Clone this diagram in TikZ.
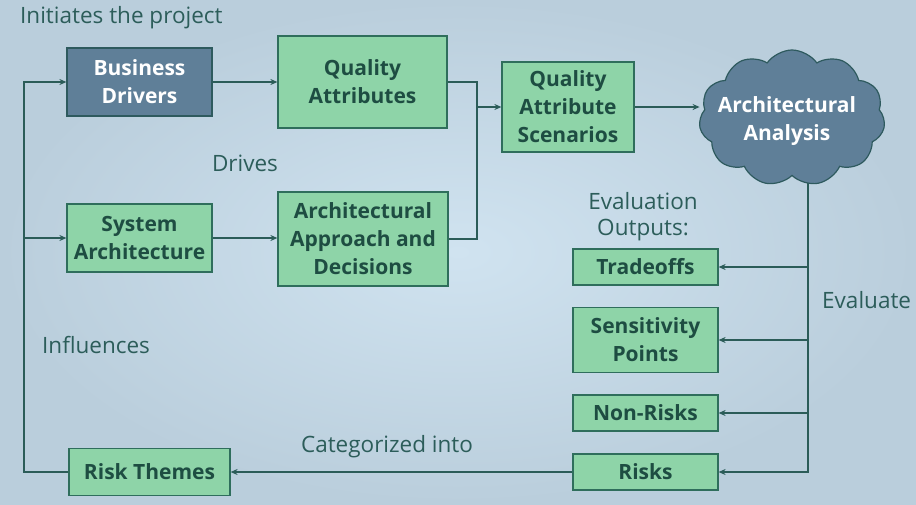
\documentclass[tikz,border=0pt]{standalone}
\usepackage{fontspec}
\setmainfont{Open Sans}
\usetikzlibrary{shapes.symbols,arrows.meta}
\definecolor{bgin}{HTML}{D0E3F0}
\definecolor{bgout}{HTML}{BACEDC}
\definecolor{gfill}{HTML}{8ED4A8}
\definecolor{gline}{HTML}{2F6E5C}
\definecolor{gtext}{HTML}{1E4D42}
\definecolor{dfill}{HTML}{5F7F98}
\definecolor{dline}{HTML}{2E5A5E}
\definecolor{lbl}{HTML}{2C5D5A}
\definecolor{conn}{HTML}{2B5C58}
\pgfdeclarelayer{bg}
\pgfdeclarelayer{lines}
\pgfsetlayers{bg,lines,main}
\tikzset{
  boxfont/.style={font=\bfseries\fontsize{21}{28}\selectfont},
  gbox/.style={draw=gline, line width=1.2pt, fill=gfill, text=gtext, boxfont, align=center, inner sep=0pt},
  dbox/.style={draw=dline, line width=1.2pt, fill=dfill, text=white, boxfont, align=center, inner sep=0pt},
  lab/.style={text=lbl, font=\fontsize{22.5}{26}\selectfont, align=center, inner sep=0pt},
  conline/.style={draw=conn, line width=1.2pt},
  arr/.style={conline, -{Stealth[length=7pt,width=6pt]}},
}
\begin{document}
\begin{tikzpicture}[x=1pt,y=-1pt]
\begin{pgfonlayer}{bg}
\shade[inner color=bgin, outer color=bgout] (0,0) rectangle (916,504);
\end{pgfonlayer}
\useasboundingbox (0,0) rectangle (916,504);

% boxes
\node[dbox, minimum width=145pt, minimum height=68pt] (bd) at (139.5,82) {Business\\Drivers};
\node[gbox, minimum width=169pt, minimum height=92pt] (qa) at (362.5,82) {Quality\\Attributes};
\node[gbox, minimum width=132pt, minimum height=90pt] (qas) at (568,107) {Quality\\Attribute\\Scenarios};
\node[cloud, cloud puffs=11, cloud puff arc=110, draw=dline, line width=1.2pt, fill=dfill, minimum width=186pt, minimum height=136pt, inner sep=0pt] (aa) at (792,118) {};
\node[boxfont, text=white, align=center, inner sep=0pt] (aat) at (787,121) {Architectural\\Analysis};
\node[gbox, minimum width=145pt, minimum height=68pt] (sa) at (139.5,238) {System\\Architecture};
\node[gbox, minimum width=170pt, minimum height=94pt] (aad) at (363,239) {Architectural\\Approach and\\Decisions};
\node[gbox, minimum width=145pt, minimum height=36pt] (to) at (645.5,267) {Tradeoffs};
\node[gbox, minimum width=145pt, minimum height=65pt] (sp) at (645.5,340) {Sensitivity\\Points};
\node[gbox, minimum width=145pt, minimum height=36pt] (nr) at (645.5,413) {Non-Risks};
\node[gbox, minimum width=145pt, minimum height=36pt] (rk) at (645.5,472) {Risks};
\node[gbox, minimum width=161pt, minimum height=47pt] (rt) at (149.5,472) {Risk Themes};

% labels
\node[lab, anchor=west] (l1) at (20,18) {Initiates the project};
\node[lab] (l2) at (245,163) {Drives};
\node[lab, anchor=west] (l3) at (42,345) {Influences};
\node[lab] (l4) at (643,217) {Evaluation\\Outputs:};
\node[lab, anchor=west] (l5) at (822,300) {Evaluate};
\node[lab] (l6) at (387,447) {Categorized into};

% connectors
\coordinate (lx) at (24,0);
\coordinate (mx) at (477,0);
\coordinate (rx) at (808,0);
\begin{pgfonlayer}{lines}
\draw[arr] (rt.west) -- (rt.west -| lx) |- (bd.west);
\draw[arr] (sa.west -| lx) -- (sa.west);
\draw[arr] (bd.east) -- (bd.east -| qa.west);
\draw[arr] (sa.east) -- (sa.east -| aad.west);
\draw[conline] (qa.east) -- (qa.east -| mx) -- (aad.east -| mx) -- (aad.east);
\draw[arr] (qas.west -| mx) -- (qas.west);
\draw[arr] (qas.east) -- (qas.east -| aa.west);
\draw[arr] (rx |- aa.center) -- (rk.east -| rx) -- (rk.east);
\draw[arr] (to.east -| rx) -- (to.east);
\draw[arr] (sp.east -| rx) -- (sp.east);
\draw[arr] (nr.east -| rx) -- (nr.east);
\draw[arr] (rk.west) -- (rt.east);
\end{pgfonlayer}
\end{tikzpicture}
\end{document}
